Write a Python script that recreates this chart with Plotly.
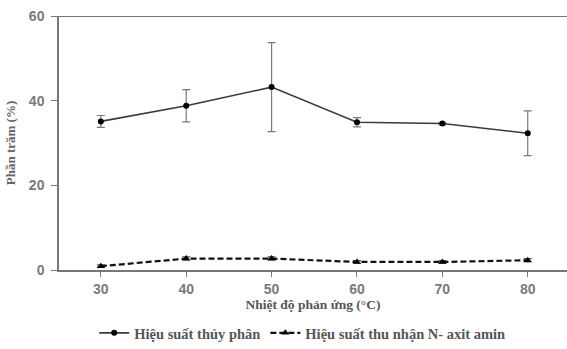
import plotly.graph_objects as go

temperature = [30, 40, 50, 60, 70, 80]
hydrolysis = [35.1, 38.8, 43.2, 34.9, 34.6, 32.3]
hydrolysis_err = [1.4, 3.8, 10.5, 1.1, 0.3, 5.3]
amino_yield = [0.9, 2.7, 2.7, 1.9, 1.9, 2.3]
amino_err = [0.3, 0.4, 0.4, 0.3, 0.3, 0.4]

series_names = ["<b>Hiệu suất thủy phân</b>", "<b>Hiệu suất thu nhận N- axit amin</b>"]
x_ticks = [30, 40, 50, 60, 70, 80]
y_ticks = [0, 20, 40, 60]

serif = "Liberation Serif"
sans = "Liberation Sans"

fig = go.Figure()
fig.add_trace(go.Scatter(
    x=temperature, y=hydrolysis, name=series_names[0], mode="lines+markers",
    line=dict(color="#3a3a3a", width=1.6),
    marker=dict(symbol="circle", size=6, color="#000000"),
    error_y=dict(type="data", array=hydrolysis_err, visible=True, color="#7a7a7a", thickness=1.2, width=4),
))
fig.add_trace(go.Scatter(
    x=temperature, y=amino_yield, name=series_names[1], mode="lines+markers",
    line=dict(color="#111111", width=2.2, dash="6px,3px"),
    marker=dict(symbol="triangle-up", size=7, color="#000000"),
    error_y=dict(type="data", array=amino_err, visible=True, color="#555555", thickness=1.2, width=4),
))

fig.add_shape(type="line", xref="paper", yref="y", x0=0, x1=1, y0=60, y1=60,
              line=dict(color="#4a4a4a", width=1.5))

fig.update_layout(
    width=567, height=349,
    margin=dict(l=59, r=0, t=16, b=79),
    paper_bgcolor="white", plot_bgcolor="white",
    showlegend=True,
    legend=dict(orientation="h", x=0.533, xanchor="center", xref="container",
                y=0.046, yanchor="middle", yref="container",
                font=dict(family=serif, size=14.5, color="#555555"),
                tracegroupgap=0),
    xaxis=dict(range=[25.1, 84.6], tickvals=x_ticks, ticks="outside", ticklen=5,
               tickcolor="#777777", showline=True, linecolor="#777777", linewidth=1.5,
               showgrid=False, zeroline=False,
               tickfont=dict(family=sans, size=14, color="#7a7a7a", weight="bold"),
               title=dict(text="<b>Nhiệt độ phản ứng (°C)</b>", standoff=0,
                          font=dict(family=serif, size=13.5, color="#555555"))),
    yaxis=dict(range=[0, 60], tickvals=y_ticks, ticks="outside", ticklen=6,
               ticklabelstandoff=4,
               tickcolor="#777777", showline=True, linecolor="#777777", linewidth=1.5,
               showgrid=False, zeroline=False,
               tickfont=dict(family=sans, size=14, color="#7a7a7a", weight="bold"),
               title=dict(text="<b>Phần trăm (%)</b>", standoff=10,
                          font=dict(family=serif, size=13, color="#666666"))),
)

fig.write_html("out.html", config={"displayModeBar": False},
               post_script="document.body.style.margin='0';document.body.style.overflow='hidden';")
